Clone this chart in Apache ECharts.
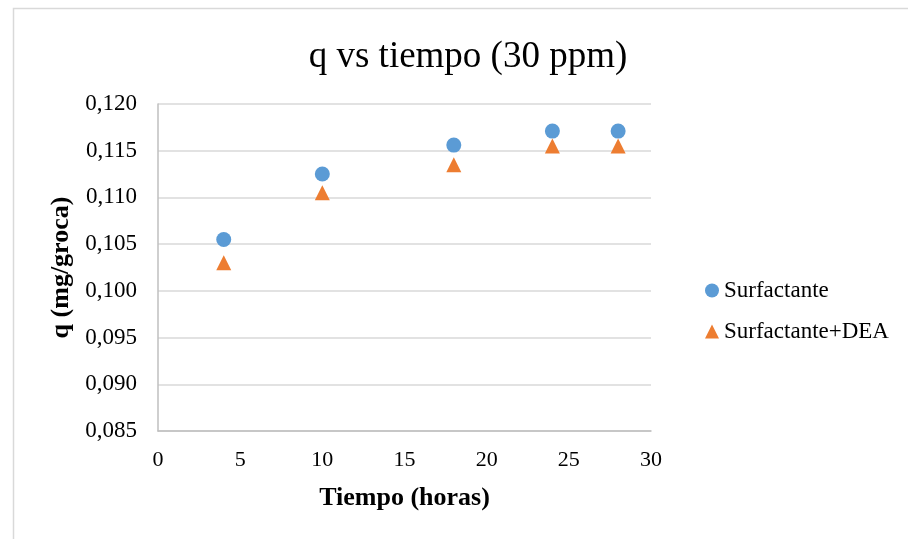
<!DOCTYPE html>
<html>
<head>
<meta charset="utf-8">
<script src="https://cdn.jsdelivr.net/npm/echarts@6/dist/echarts.min.js"></script>
<style>html,body{margin:0;padding:0;background:#fff}#c{width:908px;height:539px}</style>
</head>
<body>
<div id="c"></div>
<script>
const tiempo = [4, 10, 18, 24, 28];
const surfactante = [0.1055, 0.1125, 0.1156, 0.1171, 0.1171];
const surfactanteDEA = [0.1030, 0.1105, 0.1135, 0.1155, 0.1155];
const seriesNames = ['Surfactante', 'Surfactante+DEA'];
const FONT = '"Liberation Serif", "Times New Roman", serif';

const chart = echarts.init(document.getElementById('c'), null, {renderer: 'canvas'});
chart.setOption({
  animation: false,
  backgroundColor: '#fff',
  graphic: [{
    type: 'rect', left: 11, top: 6,
    shape: {width: 1000, height: 1000},
    style: {fill: 'none', stroke: '#d9d9d9', lineWidth: 1.5},
    silent: true
  }],
  title: {
    text: 'q vs tiempo (30 ppm)',
    left: 463, top: 34, textAlign: 'center',
    textStyle: {fontFamily: FONT, fontSize: 37, fontWeight: 'normal', color: '#000'}
  },
  legend: {
    orient: 'vertical', left: 700, top: 274,
    itemWidth: 14, itemHeight: 14, itemGap: 18, padding: 5,
    textStyle: {fontFamily: FONT, fontSize: 23, color: '#000'},
    data: [{name: seriesNames[0], icon: 'circle'}, {name: seriesNames[1], icon: 'triangle'}]
  },
  grid: {left: 158, right: 257, top: 104, bottom: 108, containLabel: false},
  xAxis: {
    type: 'value', min: 0, max: 30, interval: 5,
    name: 'Tiempo (horas)', nameLocation: 'middle', nameGap: 54,
    nameTextStyle: {fontFamily: FONT, fontSize: 26, fontWeight: 'bold', color: '#000'},
    axisLine: {show: true, lineStyle: {color: '#bfbfbf', width: 1.5}},
    axisTick: {show: false},
    axisLabel: {fontFamily: FONT, fontSize: 22, color: '#000', margin: 18},
    splitLine: {show: false}
  },
  yAxis: {
    type: 'value', min: 0.085, max: 0.120, interval: 0.005,
    name: 'q (mg/groca)', nameLocation: 'middle', nameGap: 81, nameRotate: 90,
    nameTextStyle: {fontFamily: FONT, fontSize: 26, fontWeight: 'bold', color: '#000'},
    axisLine: {show: true, lineStyle: {color: '#bfbfbf', width: 1.5}},
    axisTick: {show: false},
    axisLabel: {fontFamily: FONT, fontSize: 23, color: '#000', margin: 21,
      formatter: v => v.toFixed(3).replace('.', ',')},
    splitLine: {show: true, lineStyle: {color: '#d9d9d9', width: 1.5}}
  },
  series: [
    {name: seriesNames[0], type: 'scatter', symbol: 'circle', symbolSize: 15,
     itemStyle: {color: '#5b9bd5', opacity: 1}, data: tiempo.map((t, i) => [t, surfactante[i]])},
    {name: seriesNames[1], type: 'scatter', symbol: 'triangle', symbolSize: 15,
     itemStyle: {color: '#ed7d31', opacity: 1}, data: tiempo.map((t, i) => [t, surfactanteDEA[i]])}
  ]
});
</script>
</body>
</html>
